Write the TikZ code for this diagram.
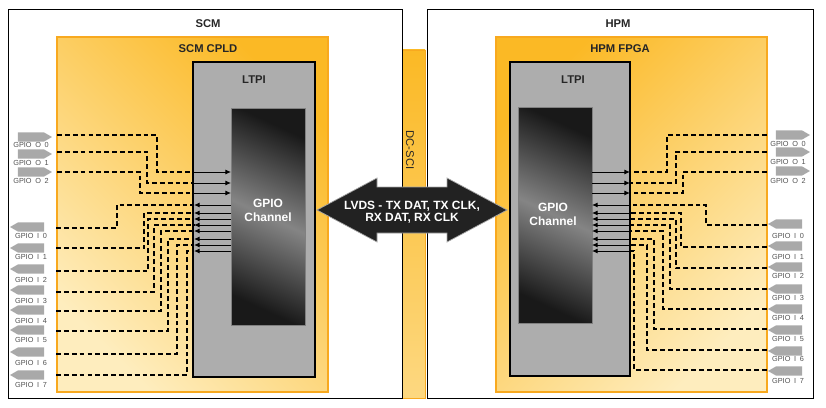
\documentclass[tikz,border=0pt]{standalone}
\usepackage{fontspec}
\setmainfont{Liberation Sans}
\usetikzlibrary{arrows.meta, shapes.symbols}
\definecolor{cpldorange}{HTML}{FBB925}
\definecolor{cpldlight}{HTML}{FEEDBE}
\definecolor{cpldedge}{HTML}{F8A91F}
\definecolor{ltpigray}{HTML}{ADADAD}
\definecolor{taggray}{HTML}{A9A9A9}
\definecolor{textdark}{HTML}{262626}
\definecolor{lvdsblack}{HTML}{222222}
\tikzstyle{sigarrow} = [line width=0.7pt, -{Latex[length=4pt, width=3.6pt]}]
\tikzstyle{dashwire} = [line width=0.8pt, dash pattern=on 3.4pt off 2.2pt]
\tikzstyle{tagout} = [signal, signal to=east, signal pointer angle=60, fill=taggray,
                      minimum width=0.85cm, minimum height=0.23cm, inner sep=0pt]
\tikzstyle{tagin} = [tagout, signal to=west]
\tikzstyle{taglabel} = [font=\fontsize{5.2}{5.2}\selectfont, text=textdark!80, inner sep=0pt]
\tikzstyle{title} = [font=\bfseries\fontsize{8}{9}\selectfont, text=textdark, inner sep=0pt]
\tikzstyle{chanlabel} = [font=\bfseries\fontsize{8.5}{10}\selectfont, text=white, align=center,
                         inner sep=0pt]
\tikzstyle{chanshade} = [top color=black!90, bottom color=black!90, middle color=black!48,
                         shading angle=-25]

\begin{document}
\begin{tikzpicture}[x=0.025cm, y=-0.025cm]
    \useasboundingbox (0,0) rectangle (826,407);

    % DC-SCI strip
    \shade[top color=cpldorange, bottom color=cpldlight!60!cpldorange]
      (402,50) rectangle (425,398);
    \draw[cpldedge, line width=0.6pt] (402,50) rectangle (425,398);
    \node[rotate=-90, font=\fontsize{8}{9}\selectfont, text=textdark, inner sep=0pt]
      (dcsci) at (410,150) {DC-SCI};

    % Boards
    \draw[line width=0.7pt] (8,9) rectangle (402,398);
    \draw[line width=0.7pt] (427,9) rectangle (813,398);
    \node[title] (scm) at (208,24) {SCM};
    \node[title] (hpm) at (618,24) {HPM};

    % CPLD and FPGA
    \shade[top color=cpldorange, bottom color=cpldlight, shading angle=-45]
      (57,37) rectangle (328,392);
    \draw[cpldedge, line width=1pt] (57,37) rectangle (328,392);
    \shade[top color=cpldorange, bottom color=cpldlight, shading angle=45]
      (496,37) rectangle (767,392);
    \draw[cpldedge, line width=1pt] (496,37) rectangle (767,392);
    \node[title] (scmcpld) at (208,49) {SCM CPLD};
    \node[title] (hpmfpga) at (620,49) {HPM FPGA};

    % LTPI blocks
    \filldraw[fill=ltpigray, line width=1.4pt] (193,62) rectangle (315,377);
    \filldraw[fill=ltpigray, line width=2pt] (510,62) rectangle (630,376);
    \node[title] (scltpi) at (254,80) {LTPI};
    \node[title] (hpltpi) at (573,80) {LTPI};

    % GPIO channels
    \shade[chanshade] (231,108) rectangle (305,325);
    \draw[gray, line width=0.5pt] (231,108) rectangle (305,325);
    \shade[chanshade] (518,107) rectangle (592,323);
    \draw[gray, line width=0.5pt] (518,107) rectangle (592,323);
    \node[chanlabel] (scchan) at (268,210) {GPIO\\Channel};
    \node[chanlabel] (hpchan) at (553,214) {GPIO\\Channel};
    \coordinate (scgpio) at (231,0);
    \coordinate (hpgpio) at (592,0);

    % SCM outputs
    \foreach \i/\yt/\yl/\yd/\xv/\ya in {0/137/145/135/157/172, 1/154/163/152/147/183,
                                        2/172/181/172/140/193} {
      \node[tagout] (lo\i) at (31,\yt) {};
      \node[taglabel] (lol\i) at (31,\yl) {GPIO\enspace O\enspace\i};
      \coordinate (los\i) at (57,\yd);
      \coordinate (loe\i) at (193,\ya);
      \draw[dashwire] (los\i) -| (\xv,\ya) -- (loe\i);
      \draw[sigarrow] (loe\i) -- (scgpio |- loe\i);
    }
    % SCM inputs
    \foreach \i/\yt/\yl/\yd/\xv/\ya in {0/227/236/228/117/205, 1/248/257/248/144/213,
                                        2/269/280/271/148/219, 3/290/301/292/154/225,
                                        4/310/321/311/161/231, 5/330/340/331/168/239,
                                        6/352/363/354/177/245, 7/375/385/375/187/251} {
      \node[tagin] (li\i) at (31,\yt) {};
      \node[taglabel] (lil\i) at (31,\yl) {GPIO\enspace I\enspace\i};
      \coordinate (lis\i) at (56,\yd);
      \coordinate (lie\i) at (194,\ya);
      \draw[dashwire] (lis\i) -| (\xv,\ya) -- (lie\i);
      \draw[sigarrow] (scgpio |- lie\i) -- (lie\i);
    }

    % HPM outputs
    \foreach \i/\yt/\yl/\yd/\xv/\ya in {0/135/144/135/667/172, 1/152/162/152/676/183,
                                        2/171/181/172/683/193} {
      \node[tagout] (ro\i) at (789,\yt) {};
      \node[taglabel] (rol\i) at (788,\yl) {GPIO\enspace O\enspace\i};
      \coordinate (ros\i) at (767,\yd);
      \coordinate (roe\i) at (630,\ya);
      \draw[dashwire] (ros\i) -| (\xv,\ya) -- (roe\i);
      \draw[sigarrow] (hpgpio |- roe\i) -- (roe\i);
    }
    % HPM inputs
    \foreach \i/\yt/\yl/\yd/\xv/\ya in {0/224/236/225/706/205, 1/246/257/247/681/213,
                                        2/267/276/268/676/219, 3/289/298/289/670/225,
                                        4/309/318/309/663/231, 5/330/339/329/654/239,
                                        6/351/359/350/647/245, 7/371/381/370/634/251} {
      \node[tagin] (ri\i) at (789,\yt) {};
      \node[taglabel] (ril\i) at (788,\yl) {GPIO\enspace I\enspace\i};
      \coordinate (ris\i) at (767,\yd);
      \coordinate (rie\i) at (630,\ya);
      \draw[dashwire] (ris\i) -| (\xv,\ya) -- (rie\i);
      \draw[sigarrow] (rie\i) -- (hpgpio |- rie\i);
    }

    % LVDS link
    \filldraw[fill=lvdsblack, draw=gray!70, line width=0.5pt]
      (317,210) -- (377,178) -- (377,187) -- (447,187) -- (447,178) -- (507,210)
      -- (447,242) -- (447,233) -- (377,233) -- (377,242) -- cycle;
    \node[font=\bfseries\fontsize{8.5}{8.6}\selectfont, text=white, align=center, inner sep=0pt]
      (lvds) at (412,212) {LVDS - TX DAT, TX CLK,\\RX DAT, RX CLK};
\end{tikzpicture}
\end{document}
